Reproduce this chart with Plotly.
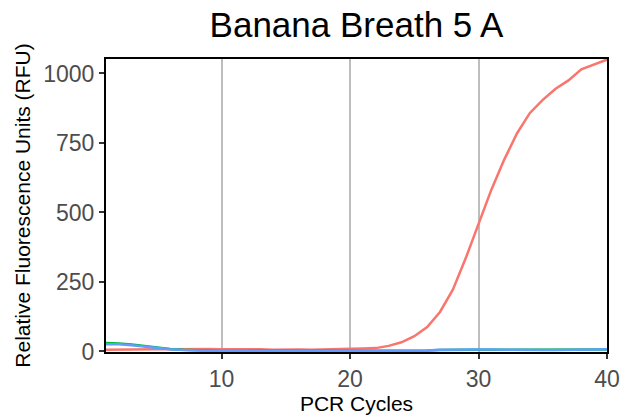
import plotly.graph_objects as go

cycles = list(range(1, 41))
red_rfu = [6, 7, 7, 7, 8, 8, 9, 10, 9, 8,
           8, 9, 8, 6, 7, 7, 6, 8, 9, 10,
           11, 12, 20, 33, 55, 88, 142, 222, 335, 460,
           582, 690, 785, 858, 905, 945, 975, 1015, 1033, 1050]
green_rfu = [30, 29, 25, 19, 14, 9, 6, 4, 3, 2,
             2, 2, 2, 1, 1, 1, 1, 1, 1, 1,
             1, 1, 1, 1, 2, 3, 5, 6, 6, 6,
             6, 6, 5, 5, 5, 5, 5, 6, 6, 7]
blue_rfu = [26, 26, 22, 17, 12, 8, 5, 3, 2, 2,
            1, 1, 1, 1, 1, 1, 1, 1, 1, 1,
            1, 1, 1, 1, 2, 3, 6, 7, 7, 7,
            7, 6, 6, 6, 5, 5, 5, 6, 7, 8]
x_ticks = [10, 20, 30, 40]
y_ticks = [0, 250, 500, 750, 1000]

series = [("red", red_rfu, "#F8766D"), ("green", green_rfu, "#00BA38"), ("blue", blue_rfu, "#619CFF")]

fig = go.Figure()
for name, vals, col in series:
    fig.add_trace(go.Scatter(x=cycles, y=vals, mode="lines", name=name,
                             line=dict(color=col, width=2.5), showlegend=False,
                             hoverinfo="skip"))

font_family = "Liberation Sans, Arial, sans-serif"
W, H = 624, 418
fig.update_layout(
    width=W, height=H,
    margin=dict(l=106, r=17, t=59, b=66, autoexpand=False),
    paper_bgcolor="white", plot_bgcolor="white",
    title=dict(text="Banana Breath 5 A", x=0.5, xanchor="center", xref="paper",
               y=1 - 25 / H, yanchor="middle",
               font=dict(family=font_family, size=35, color="black")),
    font=dict(family=font_family),
    hovermode=False,
)
fig.update_xaxes(
    range=[1, 40], tickvals=x_ticks, automargin=False,
    showgrid=True, gridcolor="#BEBEBE", gridwidth=2,
    showline=True, linecolor="black", linewidth=2, mirror=True,
    ticks="outside", ticklen=5, tickwidth=2, tickcolor="#333333",
    tickfont=dict(size=23, color="#4D4D4D"),
    title=dict(text="PCR Cycles", font=dict(size=21, color="black"), standoff=3),
    zeroline=False,
)
fig.update_yaxes(
    range=[-2, 1052], tickvals=y_ticks, automargin=False,
    showgrid=False,
    showline=True, linecolor="black", linewidth=2, mirror=True,
    ticks="outside", ticklen=5, tickwidth=2, tickcolor="#333333",
    tickfont=dict(size=23, color="#4D4D4D"),
    title=dict(text="Relative Fluorescence Units (RFU)", font=dict(size=21, color="black"), standoff=7),
    zeroline=False,
)
fig.write_html("out.html", config={"displayModeBar": False},
               post_script="document.body.style.margin='0';document.body.style.overflow='hidden';")
